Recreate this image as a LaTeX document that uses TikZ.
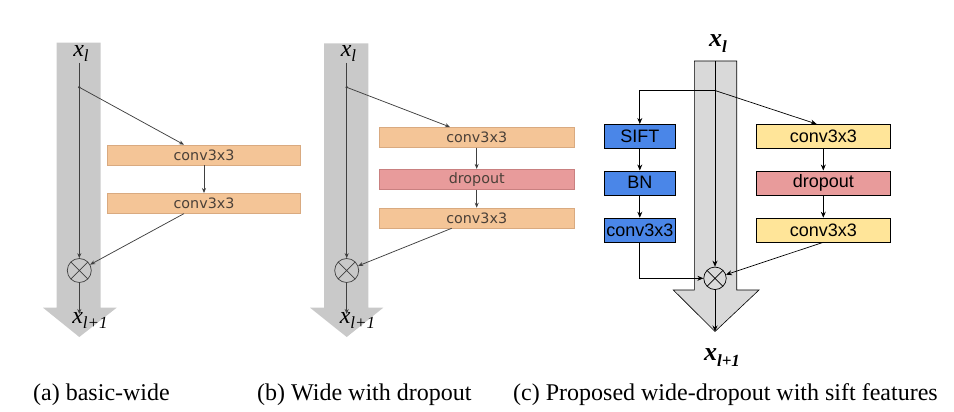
\documentclass[tikz,border=0pt]{standalone}
\usepackage{fontspec}
\setmainfont{Liberation Serif}
\setsansfont{Liberation Sans}
\newfontfamily\djv{DejaVu Sans}
\usetikzlibrary{arrows.meta}
\definecolor{shaftA}{HTML}{C9C9C9}
\definecolor{shaftC}{HTML}{D9D9D9}
\definecolor{orF}{HTML}{F4C597}
\definecolor{orD}{HTML}{D9AA80}
\definecolor{pkF}{HTML}{E89B9B}
\definecolor{pkD}{HTML}{C98080}
\definecolor{blF}{HTML}{4A86E8}
\definecolor{ylF}{HTML}{FFE599}
\definecolor{lnA}{HTML}{404040}
\definecolor{txA}{HTML}{4A4038}
\tikzset{
  boxab/.style={draw=orD, fill=orF, line width=0.6pt, minimum height=20pt, inner sep=0pt,
    font=\djv\fontsize{14.3}{14.3}\selectfont, text=txA},
  dropab/.style={boxab, draw=pkD, fill=pkF},
  boxc/.style={draw=black, line width=0.6pt, minimum height=24pt, inner sep=0pt,
    font=\sffamily\fontsize{18}{18}\selectfont},
  bluebox/.style={boxc, fill=blF, minimum width=71.7pt},
  yelbox/.style={boxc, fill=ylF, minimum width=133.3pt},
  pinkbox/.style={boxc, fill=pkF, minimum width=133.3pt},
  lna/.style={draw=lnA, line width=0.75pt, -{Stealth[length=5pt,width=4pt]}},
  lnc/.style={draw=black, line width=0.7pt, -{Stealth[length=6pt,width=5pt]}},
  otimes/.style={circle, draw, minimum size=#1, inner sep=0pt,
    path picture={\draw (path picture bounding box.north west) -- (path picture bounding box.south east)
      (path picture bounding box.north east) -- (path picture bounding box.south west);}},
  labab/.style={inner sep=0pt, font=\fontsize{24}{24}\selectfont\itshape},
  labc/.style={inner sep=0pt, font=\fontsize{26}{26}\selectfont\bfseries\itshape},
  captxt/.style={anchor=base west, inner sep=0pt, font=\fontsize{24}{24}\selectfont},
}
\begin{document}
\begin{tikzpicture}[x=1pt,y=-1pt]
\useasboundingbox (0,0) rectangle (954,412);
% ---------- panel (a)
\fill[shaftA] (56.7,42.7) -- (100.7,42.7) -- (100.7,307.7) -- (116.7,307.7) -- (79.3,337)
  -- (43,307.7) -- (56.7,307.7) -- cycle;
\node[labab] (xa) at (81,53) {x\raisebox{-5pt}{\fontsize{17}{17}\selectfont l}};
\coordinate (da) at (79.3,87.3);
\fill[lnA] (da) circle (1.4pt);
\node[boxab, minimum width=193.4pt] (a1) at (204,155) {conv3x3};
\node[boxab, minimum width=193.4pt] (a2) at (204,203.3) {conv3x3};
\node[otimes=24pt, draw=lnA, line width=0.7pt] (ma) at (79.3,270.5) {};
\coordinate (ea) at (79.3,314);
\node[labab] (xa1) at (90,320) {x\raisebox{-5pt}{\fontsize{17}{17}\selectfont l+1}};
\draw[lna] (79.3,63) -- (ma);
\draw[lna] (da) -- ([xshift=-20pt]a1.north);
\draw[lna] (a1) -- (a2);
\draw[lna] ([xshift=-20pt]a2.south) -- (ma);
\draw[lna] (ma) -- (ea);
% ---------- panel (b)
\fill[shaftA] (324,43.3) -- (368.3,43.3) -- (368.3,307.7) -- (383.3,307.7) -- (346.7,337)
  -- (310,307.7) -- (324,307.7) -- cycle;
\node[labab] (xb) at (348.5,53) {x\raisebox{-5pt}{\fontsize{17}{17}\selectfont l}};
\coordinate (db) at (346.7,87.3);
\fill[lnA] (db) circle (1.4pt);
\node[boxab, minimum width=194.7pt] (b1) at (476.7,137.3) {conv3x3};
\node[dropab, minimum width=194.7pt] (b2) at (476.7,179.2) {dropout};
\node[boxab, minimum width=194.7pt] (b3) at (476.7,218) {conv3x3};
\node[otimes=24pt, draw=lnA, line width=0.7pt] (mb) at (346.7,270.5) {};
\coordinate (eb) at (346.7,314);
\node[labab] (xb1) at (357.5,320) {x\raisebox{-5pt}{\fontsize{17}{17}\selectfont l+1}};
\draw[lna] (346.7,63) -- (mb);
\draw[lna] (db) -- ([xshift=-26.7pt]b1.north);
\draw[lna] (b1) -- (b2);
\draw[lna] (b2) -- (b3);
\draw[lna] ([xshift=-25pt]b3.south) -- (mb);
\draw[lna] (mb) -- (eb);
% ---------- panel (c)
\draw[fill=shaftC, line width=0.6pt] (694.3,61) -- (736.7,61) -- (736.7,290) -- (759,290) -- (715,331.5)
  -- (673.3,290) -- (694.3,290) -- cycle;
\coordinate (tc) at (715,61);
\coordinate (tipc) at (715,331.5);
\coordinate (brc) at (715,90.5);
\node[labc] (xc) at (718,44) {x\raisebox{-6pt}{\fontsize{17}{17}\selectfont l}};
\node[bluebox] (s1) at (639.8,136.3) {SIFT};
\node[bluebox] (s2) at (639.8,182.8) {BN};
\node[bluebox] (s3) at (639.8,230) {conv3x3};
\node[yelbox] (c1) at (823.3,136.3) {conv3x3};
\node[pinkbox] (c2) at (823.3,182.8) {dropout};
\node[yelbox] (c3) at (823.3,230) {conv3x3};
\node[otimes=22.5pt, line width=0.7pt] (mc) at (715,278.3) {};
\node[labc] (xc1) at (722,358) {x\raisebox{-6pt}{\fontsize{17}{17}\selectfont l+1}};
\draw[lnc] (tc) -- (mc);
\draw[lnc] (brc) -| (s1.north);
\draw[lnc] (brc) -- ([xshift=-6.7pt]c1.north);
\draw[lnc] (s1) -- (s2);
\draw[lnc] (s2) -- (s3);
\draw[lnc] (c1) -- (c2);
\draw[lnc] (c2) -- (c3);
\draw[lnc] (s3.south) |- (mc.west);
\draw[lnc] (c3.south) -- (mc);
\draw[lnc] (mc) -- (tipc);
% ---------- captions
\node[captxt] (capa) at (33,400) {(a) basic-wide};
\node[captxt] (capb) at (257,400) {(b) Wide with dropout};
\node[captxt] (capc) at (513,400) {(c) Proposed wide-dropout with sift features};
\end{tikzpicture}
\end{document}
